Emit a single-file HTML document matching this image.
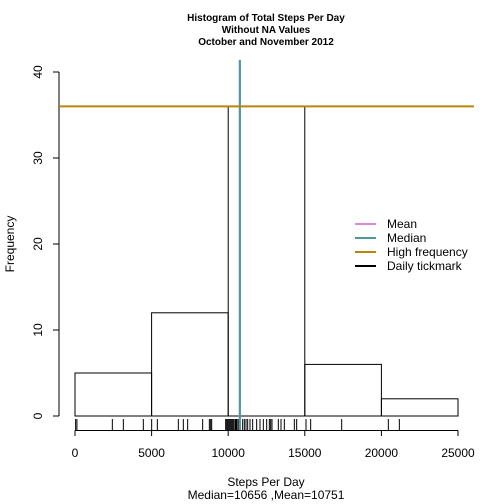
<!DOCTYPE html>
<html><head><meta charset="utf-8"><style>body{margin:0;background:#fff}svg{display:block;font-family:"Liberation Sans",Arial,sans-serif}</style></head>
<body>
<svg id="c" width="504" height="504" viewBox="0 0 504 504">
<g font-size="10" font-weight="bold" text-anchor="middle">
<text x="266" y="21">Histogram of Total Steps Per Day</text>
<text x="266" y="33">Without NA Values</text>
<text x="266" y="45">October and November 2012</text>
</g>
<g id="plot"></g>
<text x="266" y="486" font-size="12" text-anchor="middle">Steps Per Day</text>
<text x="266" y="499" font-size="12" text-anchor="middle">Median=10656 ,Mean=10751</text>
<text transform="translate(14,244) rotate(-90)" font-size="12" text-anchor="middle">Frequency</text>
<g font-size="12">
<line x1="355" y1="224" x2="376" y2="224" stroke="#dd88dd" stroke-width="2"/>
<text x="387" y="228">Mean</text>
<line x1="355" y1="238" x2="376" y2="238" stroke="#4a9a9a" stroke-width="2"/>
<text x="387" y="242">Median</text>
<line x1="355" y1="252" x2="376" y2="252" stroke="#b8860b" stroke-width="2"/>
<text x="387" y="256">High frequency</text>
<line x1="355" y1="266" x2="376" y2="266" stroke="#000" stroke-width="2"/>
<text x="387" y="270">Daily tickmark</text>
</g>
</svg>
<script>
const binStarts=[0,5000,10000,15000,20000];
const binWidth=5000;
const counts=[5,12,36,6,2];
const xTicks=[0,5000,10000,15000,20000,25000];
const yTicks=[0,10,20,30,40];
const dailySteps=[41,126,2437,3155,4460,5004,5374,6745,7071,7354,8333,8769,8856,8921,9835,9900,9965,10030,10096,10161,10226,10291,10357,10444,10509,10574,10661,10944,11053,11162,11271,11423,11597,11858,12076,12293,12511,12685,12772,12859,13272,13446,13664,14317,14469,15078,15383,17407,20453,21171];
const meanVal=10751, medianVal=10766, highFreq=36;
const NS="http://www.w3.org/2000/svg";
const X=v=>75+v*(383/25000);
const Y=v=>416-v*(344/40);
const g=document.getElementById('plot');
function mk(t,a){const e=document.createElementNS(NS,t);for(const k in a)e.setAttribute(k,a[k]);g.appendChild(e);return e;}
counts.forEach((c,i)=>{const e=mk('rect',{x:X(binStarts[i]),y:Y(c),width:X(binStarts[i]+binWidth)-X(binStarts[i]),height:Y(0)-Y(c),fill:'none',stroke:'#000'});

});
let e=mk('line',{x1:59,y1:Y(40),x2:59,y2:Y(0),stroke:'#000'});


yTicks.forEach(v=>{mk('line',{x1:53,y1:Y(v),x2:59,y2:Y(v),stroke:'#000'});
const t=mk('text',{transform:`translate(42,${Y(v)}) rotate(-90)`,'font-size':12,'text-anchor':'middle'});t.textContent=v;

});
e=mk('line',{x1:X(0),y1:430.5,x2:X(25000),y2:430.5,stroke:'#000'});


xTicks.forEach(v=>{mk('line',{x1:X(v),y1:430.5,x2:X(v),y2:436,stroke:'#000'});
const t=mk('text',{x:X(v),y:457,'font-size':12,'text-anchor':'middle'});t.textContent=v;

});
dailySteps.forEach(v=>{const r=mk('line',{x1:X(v),y1:419,x2:X(v),y2:430,stroke:'#000'});

});
e=mk('line',{x1:X(meanVal),y1:60,x2:X(meanVal),y2:430,stroke:'#dd88dd',"stroke-width":2});


e=mk('line',{x1:X(medianVal),y1:60,x2:X(medianVal),y2:430,stroke:'#4a9a9a',"stroke-width":2});


e=mk('line',{x1:59,y1:Y(highFreq),x2:474,y2:Y(highFreq),stroke:'#b8860b',"stroke-width":2});


</script>
</body></html>
